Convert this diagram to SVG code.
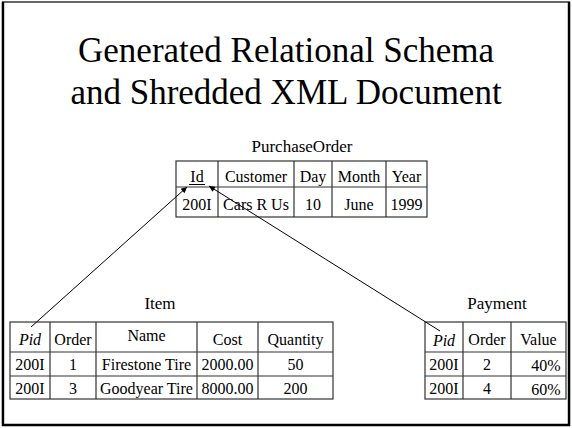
<svg xmlns="http://www.w3.org/2000/svg" width="572" height="428" viewBox="0 0 572 428">
  <style>
    text { font-family: "Liberation Serif", "Times New Roman", serif; fill: #000; }
    .title { font-size: 35px; text-anchor: middle; }
    .caption { font-size: 17px; text-anchor: middle; }
    .cell { font-size: 16px; text-anchor: middle; }
    .key { font-style: italic; }
    .grid { fill: none; stroke: #333; stroke-width: 1.2; }
    .link { fill: none; stroke: #000; stroke-width: 1; }
  </style>
  <defs>
    <marker id="head" viewBox="0 0 10 10" refX="10" refY="5" markerWidth="8" markerHeight="6" markerUnits="userSpaceOnUse" orient="auto">
      <path d="M0,0 L10,5 L0,10 z" fill="#000"/>
    </marker>
  </defs>

  <!-- slide frame: thin top edge, heavier sides and bottom -->
  <rect x="2.5" y="2" width="567" height="423" fill="#fff" stroke="#000" stroke-width="1.2"/>
  <path d="M3,2V425H569V2" fill="none" stroke="#000" stroke-width="2.4"/>

  <g id="title">
    <text class="title" x="286" y="62">Generated Relational Schema</text>
    <text class="title" x="286" y="104">and Shredded XML Document</text>
  </g>

  <!-- PurchaseOrder table -->
  <g id="purchase-order">
    <text class="caption" x="302" y="152">PurchaseOrder</text>
    <rect class="grid" x="176" y="161" width="251" height="56"/>
    <path class="grid" d="M176,187H427 M218,161V217 M294,161V217 M332,161V217 M386,161V217"/>
    <text class="cell" x="197" y="182">Id</text>
    <line x1="189" y1="184.5" x2="205" y2="184.5" stroke="#000" stroke-width="1"/>
    <text class="cell" x="256" y="182">Customer</text>
    <text class="cell" x="313" y="182">Day</text>
    <text class="cell" x="359" y="182">Month</text>
    <text class="cell" x="406.5" y="182">Year</text>
    <text class="cell" x="197" y="210">200I</text>
    <text class="cell" x="256" y="210">Cars R Us</text>
    <text class="cell" x="313" y="210">10</text>
    <text class="cell" x="359" y="210">June</text>
    <text class="cell" x="406.5" y="210">1999</text>
  </g>

  <!-- Item table -->
  <g id="item">
    <text class="caption" x="160" y="309">Item</text>
    <rect class="grid" x="10" y="322" width="323" height="77"/>
    <path class="grid" d="M10,352H333 M10,376H333 M50,322V399 M96,322V399 M197,322V399 M258,322V399"/>
    <text class="cell key" x="30" y="345">Pid</text>
    <text class="cell" x="73" y="345">Order</text>
    <text class="cell" x="146.5" y="341">Name</text>
    <text class="cell" x="227.5" y="345">Cost</text>
    <text class="cell" x="295.5" y="345">Quantity</text>
    <text class="cell" x="30" y="370">200I</text>
    <text class="cell" x="73" y="370">1</text>
    <text class="cell" x="146.5" y="370">Firestone Tire</text>
    <text class="cell" x="227.5" y="370">2000.00</text>
    <text class="cell" x="295.5" y="370">50</text>
    <text class="cell" x="30" y="394">200I</text>
    <text class="cell" x="73" y="394">3</text>
    <text class="cell" x="146.5" y="394">Goodyear Tire</text>
    <text class="cell" x="227.5" y="394">8000.00</text>
    <text class="cell" x="295.5" y="394">200</text>
  </g>

  <!-- Payment table -->
  <g id="payment">
    <text class="caption" x="497" y="309">Payment</text>
    <rect class="grid" x="425" y="322" width="141" height="77"/>
    <path class="grid" d="M425,352H566 M425,376H566 M463,322V399 M511,322V399"/>
    <text class="cell key" x="444" y="346">Pid</text>
    <text class="cell" x="487" y="345">Order</text>
    <text class="cell" x="538.5" y="345">Value</text>
    <text class="cell" x="444" y="370">200I</text>
    <text class="cell" x="487" y="370">2</text>
    <text class="cell" x="546" y="371">40%</text>
    <text class="cell" x="444" y="394">200I</text>
    <text class="cell" x="487" y="394">4</text>
    <text class="cell" x="546" y="395">60%</text>
  </g>

  <!-- foreign keys -->
  <g id="connectors">
    <line class="link" x1="31" y1="327" x2="187" y2="187" marker-end="url(#head)"/>
    <line class="link" x1="440" y1="331" x2="209" y2="186" marker-end="url(#head)"/>
  </g>
</svg>
